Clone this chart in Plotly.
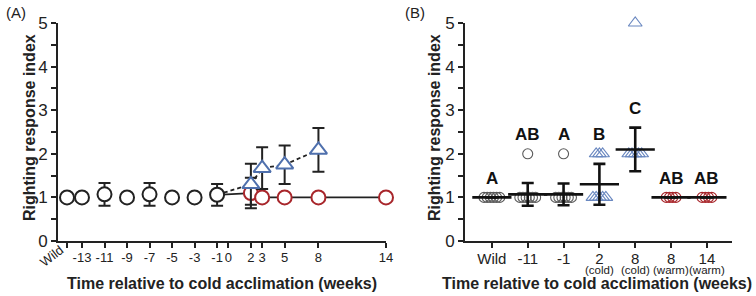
import numpy as np
import plotly.graph_objects as go

FONT = "Liberation Sans, Arial, sans-serif"

# ---------------- Panel A data ----------------
pre_x = [-14.33, -13, -11, -9, -7, -5, -3, -1]
pre_y = [1.0, 1.0, 1.07, 1.0, 1.07, 1.0, 1.0, 1.06]
pre_err = [0, 0, 0.26, 0, 0.26, 0, 0, 0.25]

warm_x = [2, 3, 5, 8, 14]
warm_y = [1.1, 1.0, 1.0, 1.0, 1.0]
warm_err = [0.35, 0, 0, 0, 0]

cold_x = [2, 3, 5, 8]
cold_y = [1.3, 1.67, 1.75, 2.09]
cold_err = [0.47, 0.48, 0.44, 0.5]

a_tickvals = [-14.33, -13, -11, -9, -7, -5, -3, -1, 0, 2, 3, 5, 8, 14]
a_ticktext = ["", "-13", "-11", "-9", "-7", "-5", "-3", "-1", "0", "2", "3", "5", "8", "14"]

# ---------------- Panel B data ----------------
b_labels = ["Wild", "-11", "-1", "2", "8", "8", "14"]
b_sublabels = ["", "", "", "(cold)", "(cold)", "(warm)", "(warm)"]
b_groups = ["pre", "pre", "pre", "cold", "cold", "warm", "warm"]
wild_pts = [1, 1, 1, 1, 1, 1]
m11_pts = [1, 1, 1, 1, 1, 1, 2]
m1_pts = [1, 1, 1, 1, 1, 1, 2]
c2_pts = [1, 1, 1, 1, 1, 2, 2, 2]
c8_pts = [2, 2, 2, 2, 2, 5]
w8_pts = [1, 1, 1, 1]
w14_pts = [1, 1, 1, 1]
b_means = [1.0, 1.07, 1.07, 1.3, 2.1, 1.0, 1.0]
b_errs = [0, 0.26, 0.25, 0.47, 0.5, 0, 0]
b_letters = ["A", "AB", "A", "B", "C", "AB", "AB"]

b_points = [wild_pts, m11_pts, m1_pts, c2_pts, c8_pts, w8_pts, w14_pts]

RED = "#a8262b"
BLUE = "#4f70ad"
BLUE_B = "#6a88c0"
GRAY = "#5a5a5a"
INK = "#222222"

fig = go.Figure()

# ---------- Panel A ----------
fig.add_trace(go.Scatter(x=[pre_x[-1]] + warm_x, y=[pre_y[-1]] + warm_y, mode="lines",
                         line=dict(color=INK, width=1.8), xaxis="x", yaxis="y",
                         showlegend=False, hoverinfo="skip", cliponaxis=False))
fig.add_trace(go.Scatter(x=[pre_x[-1]] + cold_x, y=[pre_y[-1]] + cold_y, mode="lines",
                         line=dict(color=INK, width=1.8, dash="4px,3px"), xaxis="x", yaxis="y",
                         showlegend=False, hoverinfo="skip", cliponaxis=False))


def err_trace(xs, ys, es, xa, ya, width=6, thick=2):
    sel = [(x, y, e) for x, y, e in zip(xs, ys, es) if e > 0]
    if not sel:
        return None
    return go.Scatter(x=[s[0] for s in sel], y=[s[1] for s in sel], mode="markers",
                      marker=dict(size=1, opacity=0),
                      error_y=dict(type="data", array=[s[2] for s in sel], color=INK,
                                   thickness=thick, width=width),
                      xaxis=xa, yaxis=ya, showlegend=False, hoverinfo="skip", cliponaxis=False)


for xs, ys, es in [(pre_x, pre_y, pre_err), (warm_x, warm_y, warm_err)]:
    t = err_trace(xs, ys, es, "x", "y")
    if t:
        fig.add_trace(t)

fig.add_trace(go.Scatter(x=pre_x, y=pre_y, mode="markers",
                         marker=dict(symbol="circle", size=14, color="white",
                                     line=dict(color=INK, width=2)),
                         xaxis="x", yaxis="y", showlegend=False, cliponaxis=False))
fig.add_trace(go.Scatter(x=warm_x, y=warm_y, mode="markers",
                         marker=dict(symbol="circle", size=14, color="white",
                                     line=dict(color=RED, width=2)),
                         xaxis="x", yaxis="y", showlegend=False, cliponaxis=False))
fig.add_trace(err_trace(cold_x, cold_y, cold_err, "x", "y"))
fig.add_trace(go.Scatter(x=cold_x, y=cold_y, mode="markers",
                         marker=dict(symbol="triangle-up", size=15, color="white",
                                     line=dict(color=BLUE, width=2)),
                         xaxis="x", yaxis="y", showlegend=False, cliponaxis=False))

# ---------- Panel B ----------
style = {
    "pre": dict(symbol="circle-open", size=10, color=GRAY),
    "cold": dict(symbol="triangle-up-open", size=12, color=BLUE_B),
    "warm": dict(symbol="circle-open", size=10, color=RED),
}

for i, (pts, grp) in enumerate(zip(b_points, b_groups)):
    xs, ys = [], []
    for v in sorted(set(pts)):
        n = pts.count(v)
        s = min(0.22, 0.045 * (n - 1))
        offs = np.linspace(-s, s, n) if n > 1 else np.array([0.0])
        xs += list(i + offs)
        ys += [v] * n
    st = style[grp]
    fig.add_trace(go.Scatter(x=xs, y=ys, mode="markers",
                             marker=dict(symbol=st["symbol"], size=st["size"], color=st["color"],
                                         line=dict(color=st["color"], width=1.1)),
                             xaxis="x2", yaxis="y2", showlegend=False, cliponaxis=False))

fig.add_trace(go.Scatter(x=list(range(len(b_means))), y=b_means, mode="markers",
                         marker=dict(symbol="line-ew", size=28, color="#111111",
                                     line=dict(color="#111111", width=2.6)),
                         error_y=dict(type="data", array=b_errs, color="#111111", thickness=2.6, width=6),
                         xaxis="x2", yaxis="y2", showlegend=False, cliponaxis=False))

annotations = []
for i, (pts, m, e, lab) in enumerate(zip(b_points, b_means, b_errs, b_letters)):
    top = max([m + e] + [p for p in pts if p <= m + e + 1])
    annotations.append(dict(x=i, y=top + 0.44, xref="x2", yref="y2", text="<b>%s</b>" % lab,
                            showarrow=False, font=dict(family=FONT, size=17, color="#111111"),
                            xanchor="center", yanchor="middle"))

# ---------- layout ----------
W, H = 756, 296
y_dom = [1 - 241 / H, 1 - 23 / H]
axis_common = dict(showline=True, linecolor=INK, linewidth=2, ticks="outside",
                   ticklen=5, tickwidth=2, tickcolor=INK, showgrid=False, zeroline=False,
                   tickangle=0, mirror=False, automargin=False)

yax = dict(axis_common, range=[0, 5], tickvals=[0, 1, 2, 3, 4, 5],
           tickfont=dict(family=FONT, size=17, color=INK),
           minor=dict(ticks="outside", dtick=0.5, ticklen=5, tickwidth=2, tickcolor=INK),
           domain=y_dom)

fig.update_layout(
    width=W, height=H, margin=dict(l=0, r=0, t=0, b=0, autoexpand=False),
    paper_bgcolor="white", plot_bgcolor="white",
    xaxis=dict(axis_common, domain=[58 / W, 386 / W], range=[-15.13, 14],
               tickvals=a_tickvals, ticktext=a_ticktext, ticklabelstandoff=-2,
               tickfont=dict(family=FONT, size=13, color=INK), anchor="y"),
    yaxis=dict(yax, anchor="x"),
    xaxis2=dict(axis_common, domain=[465 / W, 732 / W], range=[-0.75, 6.7],
                tickvals=list(range(7)), ticktext=b_labels, ticklabelstandoff=-2,
                tickfont=dict(family=FONT, size=15, color=INK), anchor="y2"),
    yaxis2=dict(yax, anchor="x2"),
)

for i, s in enumerate(b_sublabels):
    if s:
        annotations.append(dict(x=i, xref="x2", y=1 - 270 / H, yref="paper", text=s,
                                showarrow=False, xanchor="center", yanchor="middle",
                                font=dict(family=FONT, size=11.5, color=INK)))

annotations += [
    dict(x=4 / W, y=1 - 12 / H, text="(A)", showarrow=False, xanchor="left", yanchor="middle",
         font=dict(family=FONT, size=15, color=INK)),
    dict(x=403 / W, y=1 - 12 / H, text="(B)", showarrow=False, xanchor="left", yanchor="middle",
         font=dict(family=FONT, size=15, color=INK)),
    dict(x=222 / W, y=1 - 283 / H, text="<b>Time relative to cold acclimation (weeks)</b>",
         showarrow=False, xanchor="center", yanchor="middle",
         font=dict(family=FONT, size=16, color=INK)),
    dict(x=597 / W, y=1 - 283 / H, text="<b>Time relative to cold acclimation (weeks)</b>",
         showarrow=False, xanchor="center", yanchor="middle",
         font=dict(family=FONT, size=16, color=INK)),
    dict(x=29 / W, y=1 - 128 / H, text="<b>Righting response index</b>", textangle=-90,
         showarrow=False, xanchor="center", yanchor="middle",
         font=dict(family=FONT, size=16, color=INK)),
    dict(x=434 / W, y=1 - 128 / H, text="<b>Righting response index</b>", textangle=-90,
         showarrow=False, xanchor="center", yanchor="middle",
         font=dict(family=FONT, size=16, color=INK)),
    dict(x=51 / W, y=1 - 256 / H, text="Wild", textangle=-38,
         showarrow=False, xanchor="center", yanchor="middle",
         font=dict(family=FONT, size=13, color=INK)),
]
for a in annotations:
    a.setdefault("xref", "paper")
    a.setdefault("yref", "paper")
fig.update_layout(annotations=annotations)

fig.write_html("out.html")
